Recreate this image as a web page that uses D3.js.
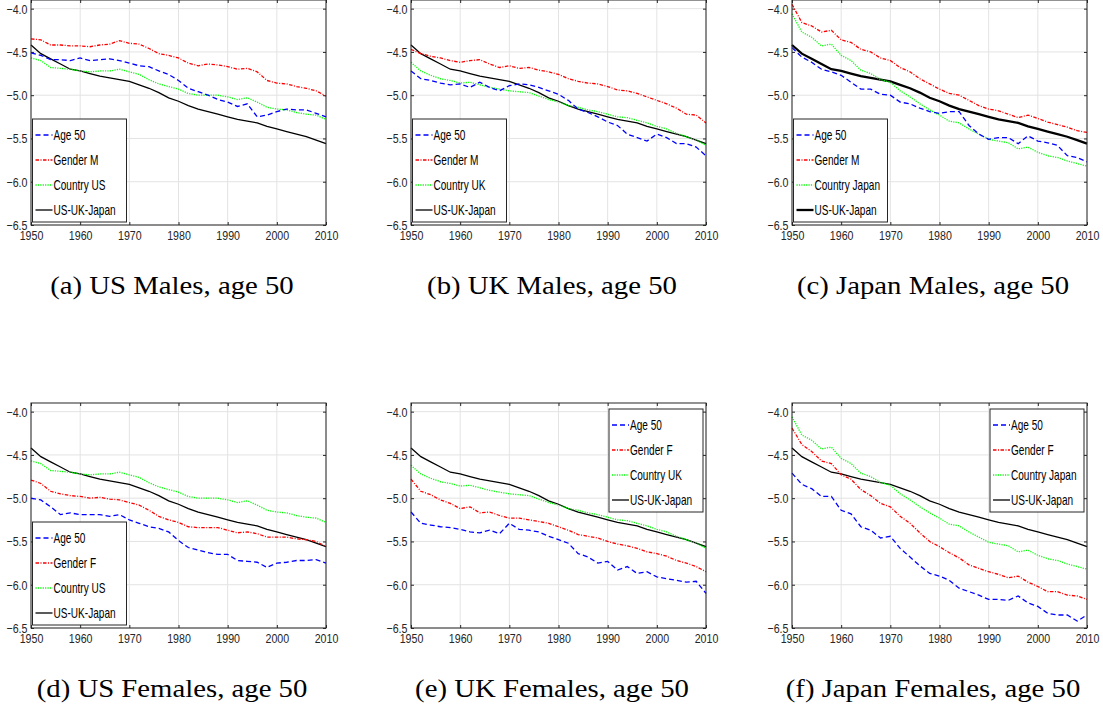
<!DOCTYPE html>
<html>
<head>
<meta charset="utf-8">
<script src="https://cdn.jsdelivr.net/npm/d3@7/dist/d3.min.js"></script>
<style>
body{margin:0;background:#fff;}
svg{display:block;}
.tick text{font-family:'Liberation Sans Narrow','Liberation Sans',Arial,sans-serif;font-size:13px;fill:#262626;}
.legend text{font-family:'Liberation Sans Narrow','Liberation Sans',Arial,sans-serif;font-size:14px;fill:#000;}
.caption{font-family:'Liberation Serif','DejaVu Serif',serif;font-size:25px;fill:#000;}
</style>
</head>
<body>
<svg id="chart" width="1103" height="710"></svg>
<script>
//years (every 2nd year)
const YEARS = [1950,1952,1954,1956,1958,1960,1962,1964,1966,1968,1970,1972,1974,1976,1978,1980,
               1982,1984,1986,1988,1990,1992,1994,1996,1998,2000,2002,2004,2006,2008,2010];
const X_TICKS = [1950,1960,1970,1980,1990,2000,2010];
const Y_TICKS = [-4.0,-4.5,-5.0,-5.5,-6.0,-6.5];

//common curve, same in every panel
const US_UK_JAPAN = [-4.42,-4.52,-4.58,-4.64,-4.70,-4.72,-4.75,-4.78,-4.80,-4.82,-4.84,-4.88,-4.92,-4.97,-5.03,-5.07,
                     -5.12,-5.16,-5.19,-5.22,-5.25,-5.28,-5.30,-5.32,-5.36,-5.39,-5.42,-5.45,-5.48,-5.52,-5.56];

//country curves (shared by males and females)
const COUNTRY_US = [-4.57,-4.60,-4.68,-4.69,-4.70,-4.72,-4.73,-4.72,-4.72,-4.70,-4.73,-4.76,-4.82,-4.87,-4.90,-4.93,
                    -4.98,-5.00,-5.00,-5.00,-5.02,-5.05,-5.03,-5.08,-5.14,-5.16,-5.17,-5.20,-5.22,-5.23,-5.28];
const COUNTRY_UK = [-4.62,-4.72,-4.77,-4.81,-4.83,-4.86,-4.85,-4.88,-4.91,-4.93,-4.95,-4.96,-4.97,-5.01,-5.05,-5.08,
                    -5.12,-5.14,-5.17,-5.19,-5.22,-5.25,-5.26,-5.29,-5.32,-5.36,-5.39,-5.44,-5.48,-5.52,-5.58];
const COUNTRY_JAPAN = [-4.06,-4.27,-4.33,-4.43,-4.41,-4.54,-4.60,-4.71,-4.75,-4.82,-4.85,-4.95,-5.02,-5.10,-5.17,-5.23,
                       -5.30,-5.32,-5.39,-5.45,-5.51,-5.53,-5.55,-5.62,-5.60,-5.66,-5.70,-5.72,-5.76,-5.79,-5.82];

//age 50 curves
const AGE_US_M = [-4.51,-4.54,-4.59,-4.59,-4.60,-4.57,-4.60,-4.59,-4.58,-4.60,-4.63,-4.66,-4.67,-4.72,-4.76,-4.83,
                  -4.92,-4.96,-5.00,-5.05,-5.08,-5.13,-5.10,-5.25,-5.23,-5.19,-5.16,-5.17,-5.17,-5.21,-5.25];
const AGE_UK_M = [-4.72,-4.81,-4.83,-4.86,-4.88,-4.87,-4.91,-4.85,-4.91,-4.95,-4.89,-4.87,-4.88,-4.91,-4.95,-4.99,
                  -5.06,-5.16,-5.20,-5.25,-5.31,-5.35,-5.45,-5.49,-5.53,-5.45,-5.49,-5.56,-5.56,-5.60,-5.70];
const AGE_JP_M = [-4.45,-4.56,-4.62,-4.70,-4.73,-4.77,-4.85,-4.93,-4.93,-4.99,-5.00,-5.08,-5.10,-5.15,-5.19,-5.21,
                  -5.19,-5.19,-5.35,-5.45,-5.51,-5.49,-5.49,-5.56,-5.47,-5.53,-5.55,-5.58,-5.70,-5.72,-5.77];
const AGE_US_F = [-5.00,-5.02,-5.10,-5.19,-5.17,-5.19,-5.19,-5.19,-5.21,-5.19,-5.25,-5.29,-5.33,-5.35,-5.39,-5.49,
                  -5.57,-5.60,-5.63,-5.65,-5.65,-5.72,-5.73,-5.74,-5.80,-5.75,-5.74,-5.72,-5.72,-5.71,-5.75];
const AGE_UK_F = [-5.16,-5.29,-5.31,-5.33,-5.34,-5.36,-5.39,-5.40,-5.37,-5.41,-5.29,-5.36,-5.37,-5.39,-5.44,-5.48,
                  -5.52,-5.64,-5.68,-5.75,-5.73,-5.83,-5.79,-5.87,-5.85,-5.91,-5.93,-5.95,-5.97,-5.96,-6.10];
const AGE_JP_F = [-4.71,-4.84,-4.89,-4.98,-4.98,-5.14,-5.18,-5.33,-5.37,-5.46,-5.44,-5.58,-5.68,-5.78,-5.87,-5.90,
                  -5.95,-6.04,-6.08,-6.12,-6.17,-6.17,-6.18,-6.13,-6.21,-6.25,-6.33,-6.35,-6.35,-6.42,-6.35];

//gender curves
const GENDER_US_M = [-4.35,-4.36,-4.42,-4.42,-4.43,-4.43,-4.44,-4.42,-4.41,-4.37,-4.40,-4.41,-4.46,-4.52,-4.54,-4.57,
                     -4.63,-4.66,-4.64,-4.65,-4.67,-4.70,-4.69,-4.73,-4.83,-4.86,-4.87,-4.90,-4.92,-4.95,-5.01];
const GENDER_UK_M = [-4.47,-4.52,-4.55,-4.57,-4.60,-4.62,-4.60,-4.59,-4.64,-4.68,-4.66,-4.69,-4.68,-4.71,-4.73,-4.76,
                     -4.81,-4.84,-4.86,-4.87,-4.90,-4.94,-4.95,-4.98,-5.02,-5.06,-5.10,-5.15,-5.22,-5.23,-5.32];
const GENDER_JP_M = [-3.95,-4.16,-4.20,-4.27,-4.25,-4.36,-4.39,-4.47,-4.50,-4.57,-4.60,-4.68,-4.73,-4.81,-4.87,-4.93,
                     -4.98,-5.00,-5.06,-5.12,-5.16,-5.18,-5.22,-5.26,-5.23,-5.27,-5.31,-5.34,-5.37,-5.41,-5.43];
const GENDER_US_F = [-4.79,-4.83,-4.92,-4.95,-4.97,-4.98,-5.00,-4.99,-5.01,-5.02,-5.05,-5.08,-5.14,-5.21,-5.25,-5.28,
                     -5.33,-5.34,-5.34,-5.34,-5.37,-5.40,-5.39,-5.41,-5.45,-5.45,-5.45,-5.47,-5.48,-5.50,-5.56];
const GENDER_UK_F = [-4.78,-4.92,-4.96,-5.02,-5.06,-5.12,-5.10,-5.17,-5.16,-5.20,-5.23,-5.23,-5.25,-5.27,-5.29,-5.33,
                     -5.37,-5.42,-5.44,-5.46,-5.50,-5.53,-5.55,-5.58,-5.62,-5.64,-5.67,-5.72,-5.75,-5.79,-5.85];
const GENDER_JP_F = [-4.19,-4.38,-4.46,-4.57,-4.60,-4.73,-4.78,-4.90,-4.97,-5.06,-5.10,-5.21,-5.29,-5.40,-5.50,-5.56,
                     -5.63,-5.69,-5.77,-5.81,-5.85,-5.88,-5.92,-5.90,-5.97,-6.02,-6.08,-6.08,-6.12,-6.13,-6.17];

//panel captions and legend labels
const CAPTIONS = ['(a) US Males, age 50','(b) UK Males, age 50','(c) Japan Males, age 50',
                  '(d) US Females, age 50','(e) UK Females, age 50','(f) Japan Females, age 50'];
const COUNTRY_LABELS = ['Country US','Country UK','Country Japan'];

//layout constants
const CONSTANTS = {
    COL_LEFT:[31,411,792],   //left edge of each plot box
    PLOT_WIDTH:295,
    ROW_TOP:[0,403],         //top edge of each plot box
    PLOT_HEIGHT:225,
    Y_MAX:-3.9,
    Y_MIN:-6.5,
    AXIS_COLOR:'#262626',
    GRID_COLOR:'#e3e3e3',
    TICK_SQUEEZE:0.82,       //the original fonts are narrow, squeeze them horizontally
    LEGEND_SQUEEZE:0.72,
    CAPTION_STRETCH:1.15
};

const STYLES = {
    age:{color:'#0000ff',dash:'5,3'},
    gender:{color:'#ff0000',dash:'3.5,1.5,1,1.5'},
    country:{color:'#00ff00',dash:'1.2,1.2'},
    common:{color:'#000000',dash:null}
};

//the six panels
const PANELS = [
    {age:AGE_US_M,gender:GENDER_US_M,country:COUNTRY_US,g:'M',c:0,legend:'sw',bold:false},
    {age:AGE_UK_M,gender:GENDER_UK_M,country:COUNTRY_UK,g:'M',c:1,legend:'sw',bold:false},
    {age:AGE_JP_M,gender:GENDER_JP_M,country:COUNTRY_JAPAN,g:'M',c:2,legend:'sw',bold:true},
    {age:AGE_US_F,gender:GENDER_US_F,country:COUNTRY_US,g:'F',c:0,legend:'sw',bold:false},
    {age:AGE_UK_F,gender:GENDER_UK_F,country:COUNTRY_UK,g:'F',c:1,legend:'ne',bold:false},
    {age:AGE_JP_F,gender:GENDER_JP_F,country:COUNTRY_JAPAN,g:'F',c:2,legend:'ne',bold:false}
];

const svg = d3.select('#chart');

function drawPanel(p,i){
    let col = i % 3;
    let row = Math.floor(i / 3);
    let x0 = CONSTANTS.COL_LEFT[col];
    let y0 = CONSTANTS.ROW_TOP[row];
    let w = CONSTANTS.PLOT_WIDTH;
    let h = CONSTANTS.PLOT_HEIGHT;

    let x = d3.scaleLinear().domain([1950,2010]).range([x0,x0 + w]);
    let y = d3.scaleLinear().domain([CONSTANTS.Y_MIN,CONSTANTS.Y_MAX]).range([y0 + h,y0]);

    let g = svg.append('g');

    //grid
    g.append('g').selectAll('line').data(X_TICKS).enter().append('line')
        .attr('x1',d=>x(d)).attr('x2',d=>x(d)).attr('y1',y0).attr('y2',y0 + h)
        .attr('stroke',CONSTANTS.GRID_COLOR).attr('stroke-width',1);
    g.append('g').selectAll('line').data(Y_TICKS).enter().append('line')
        .attr('x1',x0).attr('x2',x0 + w).attr('y1',d=>y(d)).attr('y2',d=>y(d))
        .attr('stroke',CONSTANTS.GRID_COLOR).attr('stroke-width',1);

    //axes, ticks pointing inward
    let xAxis = d3.axisBottom(x).tickValues(X_TICKS).tickFormat(d3.format('d')).tickSize(-3).tickPadding(6);
    let yAxis = d3.axisLeft(y).tickValues(Y_TICKS).tickFormat(d3.format('.1f')).tickSize(-3);
    let axes = [
        g.append('g').attr('transform','translate(0,' + (y0 + h) + ')').call(xAxis),
        g.append('g').attr('transform','translate(' + x0 + ',0)').call(yAxis),
        g.append('g').attr('transform','translate(0,' + y0 + ')').call(d3.axisTop(x).tickValues(X_TICKS).tickFormat('').tickSize(-3)),
        g.append('g').attr('transform','translate(' + (x0 + w) + ',0)').call(d3.axisRight(y).tickValues(Y_TICKS).tickFormat('').tickSize(-3))
    ];
    axes.forEach(a=>{
        a.attr('font-family',null).attr('font-size',null);
        a.select('.domain').remove();
        a.selectAll('.tick line').attr('stroke',CONSTANTS.AXIS_COLOR);
        a.selectAll('.tick text').attr('transform','scale(' + CONSTANTS.TICK_SQUEEZE + ',1)');
    });
    axes[1].selectAll('.tick text').attr('x',-3.5 / CONSTANTS.TICK_SQUEEZE).attr('dy','0.34em');

    //lines
    let line = d3.line().x((d,k)=>x(YEARS[k])).y(d=>y(d));
    let series = [
        {key:'age',data:p.age,label:'Age 50'},
        {key:'gender',data:p.gender,label:'Gender ' + p.g},
        {key:'country',data:p.country,label:COUNTRY_LABELS[p.c]},
        {key:'common',data:US_UK_JAPAN,label:'US-UK-Japan'}
    ];
    let lineWidth = s=>(s.key == 'common' && p.bold) ? 2.3 : 1.3;

    series.slice().reverse().forEach(s=>{
        g.append('path')
            .attr('d',line(s.data))
            .attr('fill','none')
            .attr('stroke',STYLES[s.key].color)
            .attr('stroke-width',lineWidth(s))
            .attr('stroke-dasharray',STYLES[s.key].dash);
    });

    //box
    g.append('rect').attr('x',x0).attr('y',y0).attr('width',w).attr('height',h)
        .attr('fill','none').attr('stroke',CONSTANTS.AXIS_COLOR).attr('stroke-width',1);

    //legend
    let lw = 94, lh = 103;
    let lx = p.legend == 'sw' ? x0 + 1.5 : x0 + w - 3 - lw;
    let ly = p.legend == 'sw' ? y0 + h - 3 - lh : y0 + 6;
    let legend = g.append('g').attr('class','legend').attr('transform','translate(' + lx + ',' + ly + ')');
    legend.append('rect').attr('width',lw).attr('height',lh)
        .attr('fill','#fff').attr('stroke',CONSTANTS.AXIS_COLOR).attr('stroke-width',1);
    let items = legend.selectAll('g.item').data(series).enter().append('g')
        .attr('class','item')
        .attr('transform',(d,k)=>'translate(0,' + (16 + k * 25) + ')');
    items.append('line').attr('x1',3).attr('x2',20).attr('y1',0).attr('y2',0)
        .attr('stroke',d=>STYLES[d.key].color)
        .attr('stroke-width',d=>lineWidth(d))
        .attr('stroke-dasharray',d=>STYLES[d.key].dash);
    items.append('text')
        .attr('transform','translate(21,0) scale(' + CONSTANTS.LEGEND_SQUEEZE + ',1)')
        .attr('dy','0.35em')
        .text(d=>d.label);

    //caption
    svg.append('text').attr('class','caption')
        .attr('transform','translate(' + (x0 + w / 2 - 6.5) + ',' + (y0 + h + 69) + ') scale(' + CONSTANTS.CAPTION_STRETCH + ',1)')
        .attr('text-anchor','middle')
        .text(CAPTIONS[i]);
}

PANELS.forEach(drawPanel);
</script>
</body>
</html>
